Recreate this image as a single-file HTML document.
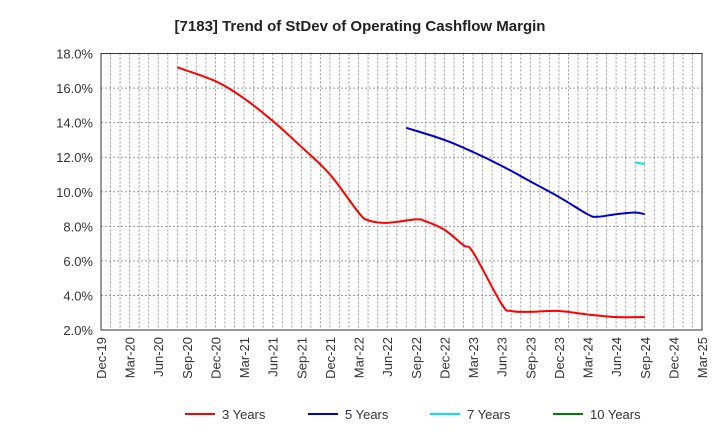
<!DOCTYPE html>
<html><head><meta charset="utf-8"><style>
body{margin:0;background:#fff;font-family:"Liberation Sans",sans-serif;}
</style></head><body>
<svg width="720" height="440" xmlns="http://www.w3.org/2000/svg" id="c">
<text x="360" y="31" text-anchor="middle" font-size="15" font-weight="bold" fill="#222">[7183]  Trend of StDev of Operating Cashflow Margin</text>
<g id="grid"></g><g id="axes"></g><g id="series"></g><g id="legend"></g>
</svg>
<script>
const tickLabels=["Dec-19","Mar-20","Jun-20","Sep-20","Dec-20","Mar-21","Jun-21","Sep-21","Dec-21","Mar-22","Jun-22","Sep-22","Dec-22","Mar-23","Jun-23","Sep-23","Dec-23","Mar-24","Jun-24","Sep-24","Dec-24","Mar-25"];
const yTicks=[2,4,6,8,10,12,14,16,18];
// months since Dec-19
const m3=[8,12,15,18,21,24,27,28,30,33,34,36,38,39,42,43,45,48,51,54,57];
const v3=[17.2,16.4,15.4,14.1,12.6,11.0,8.8,8.35,8.2,8.4,8.3,7.8,6.9,6.5,3.5,3.1,3.05,3.1,2.9,2.75,2.75];
const m5=[32,36,39,42,45,48,51,52,54,56,57];
const v5=[13.7,13.0,12.3,11.5,10.6,9.7,8.7,8.55,8.7,8.8,8.7];
const m7=[56,57];
const v7=[11.7,11.6];
const L=101,R=702,T=53.5,B=330;
const X=m=>L+(R-L)*m/63, Y=v=>B-(B-T)*(v-2)/16;
const NS="http://www.w3.org/2000/svg";
function mk(t,a,p,txt){const e=document.createElementNS(NS,t);for(const k in a)e.setAttribute(k,a[k]);if(txt!==undefined)e.textContent=txt;p.appendChild(e);return e;}
const g=document.getElementById('grid'),ax=document.getElementById('axes'),s=document.getElementById('series'),lg=document.getElementById('legend');
for(let m=1;m<63;m++){const l=mk('line',{x1:X(m),x2:X(m),y1:T,y2:B,stroke:'#999','stroke-dasharray':'2,2','stroke-width':1},g);

}
yTicks.forEach(v=>{if(v>2&&v<18){const l=mk('line',{x1:L,x2:R,y1:Y(v),y2:Y(v),stroke:'#999','stroke-dasharray':'2,2'},g);

}
const t=mk('text',{x:L-8,y:Y(v)+5,'text-anchor':'end','font-size':13,fill:'#333'},ax,v.toFixed(1)+'%');

});
const fr=mk('rect',{x:L,y:T,width:R-L,height:B-T,fill:'none',stroke:'#333','stroke-width':1},ax);


tickLabels.forEach((t,i)=>{const x=X(i*3);const e=mk('text',{x:x+5,y:B+7,'text-anchor':'end','font-size':13,fill:'#333',transform:`rotate(-90 ${x+5} ${B+7})`},ax,t);

});
function smooth(pts){if(pts.length<3)return 'M'+pts.map(p=>p.join(',')).join(' L');
let d='M'+pts[0][0]+','+pts[0][1];
for(let i=0;i<pts.length-1;i++){const p0=pts[i-1]||pts[i],p1=pts[i],p2=pts[i+1],p3=pts[i+2]||p2;
const c1=[p1[0]+(p2[0]-p0[0])/6,p1[1]+(p2[1]-p0[1])/6],c2=[p2[0]-(p3[0]-p1[0])/6,p2[1]-(p3[1]-p1[1])/6];
d+=` C${c1[0]},${c1[1]} ${c2[0]},${c2[1]} ${p2[0]},${p2[1]}`;}return d;}
function line(ms,vs,c,n){const p=mk('path',{d:smooth(ms.map((m,i)=>[X(m),Y(vs[i])])),fill:'none',stroke:c,'stroke-width':2,'stroke-linejoin':'round'},s);

}
line(m3,v3,'#ff0000','series-3-years');
line(m5,v5,'#0000cc','series-5-years');
line(m7,v7,'#00e5ee','series-7-years');
[['3 Years','#ff0000',185],['5 Years','#0000cc',308],['7 Years','#00e5ee',430],['10 Years','#008000',553]].forEach(([n,c,x])=>{
const gi=mk('g',{},lg);


mk('line',{x1:x,x2:x+30,y1:414,y2:414,stroke:c,'stroke-width':2},gi);
mk('text',{x:x+37,y:419,'font-size':13,fill:'#333'},gi,n);});
</script>
</body></html>
